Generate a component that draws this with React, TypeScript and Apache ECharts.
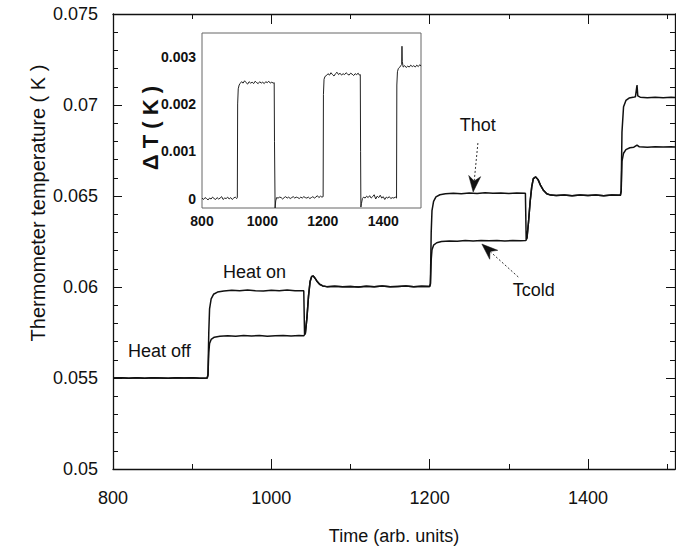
import React, { useEffect, useRef } from "react";
import * as echarts from "echarts";

type P = [number, number];

const FONT = '"Liberation Sans", Arial, Helvetica, sans-serif';

// ---- axis ticks / labels ----
const mainXLabels = [800, 1000, 1200, 1400];
const mainXMajorTicks = [1000, 1200, 1400];
const mainXMinorTicks = [900, 1100, 1300, 1500];
const insetXLabels = [800, 1000, 1200, 1400];
const insetXTicks = [900, 1000, 1100, 1200, 1300, 1400, 1500];
const insetYLabels = [0, 0.001, 0.002, 0.003];
const insetYTicks = [0, 0.0005, 0.001, 0.0015, 0.002, 0.0025, 0.003, 0.0035];

// ---- main plot: thermometer temperatures (time, K) ----
const offA: P[] = [
  [800, 0.055], [810, 0.05502], [820, 0.05499], [830, 0.05501], [840, 0.05499], [850, 0.05502],
  [860, 0.055], [870, 0.05498], [880, 0.05501], [890, 0.055], [900, 0.05502], [910, 0.05499], [919, 0.055],
];
const hotA: P[] = [
  [920, 0.0552], [921, 0.0575], [922, 0.0588], [924, 0.05935], [927, 0.0596], [932, 0.05972],
  [940, 0.05978], [950, 0.05982], [960, 0.05979], [970, 0.05983], [980, 0.0598], [990, 0.05978],
  [1000, 0.05982], [1010, 0.0598], [1020, 0.05983], [1030, 0.05979], [1041, 0.0598], [1042, 0.0574],
];
const coldA: P[] = [
  [920, 0.05515], [921, 0.0564], [922, 0.0569], [924, 0.05712], [928, 0.05724], [935, 0.0573],
  [945, 0.05732], [955, 0.0573], [965, 0.05733], [975, 0.05731], [985, 0.05733], [995, 0.0573],
  [1005, 0.05732], [1015, 0.05734], [1025, 0.05731], [1035, 0.05733], [1041, 0.05732], [1042, 0.05738],
];
const offB: P[] = [
  [1043, 0.05745], [1045, 0.0583], [1047, 0.0595], [1049, 0.0603], [1051, 0.06058], [1053, 0.0606],
  [1055, 0.0605], [1058, 0.0603], [1061, 0.06015], [1065, 0.06006], [1070, 0.06002], [1080, 0.06004],
  [1090, 0.06001], [1100, 0.06003], [1110, 0.06], [1120, 0.06004], [1130, 0.06002], [1140, 0.06005],
  [1150, 0.06001], [1160, 0.06003], [1170, 0.06005], [1180, 0.06002], [1190, 0.06004], [1200, 0.06003],
];
const hotB: P[] = [
  [1201, 0.0602], [1202, 0.063], [1203, 0.0642], [1205, 0.0647], [1208, 0.06495], [1213, 0.06507],
  [1220, 0.06512], [1230, 0.06515], [1240, 0.06513], [1250, 0.06517], [1260, 0.06514], [1270, 0.06518],
  [1280, 0.06515], [1290, 0.06517], [1300, 0.06514], [1310, 0.06516], [1321, 0.06515], [1322, 0.06262],
];
const coldB: P[] = [
  [1201, 0.06015], [1202, 0.0615], [1203, 0.06205], [1205, 0.0623], [1209, 0.06243], [1215, 0.0625],
  [1225, 0.06253], [1235, 0.06252], [1245, 0.06255], [1255, 0.06253], [1265, 0.06256], [1275, 0.06254],
  [1285, 0.06256], [1295, 0.06253], [1305, 0.06255], [1315, 0.06254], [1321, 0.06255], [1322, 0.06258],
];
const offC: P[] = [
  [1323, 0.0627], [1325, 0.0636], [1327, 0.0647], [1329, 0.0655], [1331, 0.06595], [1334, 0.06605],
  [1337, 0.0659], [1340, 0.0656], [1344, 0.0653], [1348, 0.06512], [1353, 0.06505], [1360, 0.06503],
  [1370, 0.06506], [1380, 0.06502], [1390, 0.06505], [1400, 0.06503], [1410, 0.06506], [1420, 0.06502],
  [1430, 0.06505], [1441, 0.06504],
];
const hotC: P[] = [
  [1442, 0.0653], [1443, 0.0685], [1445, 0.0699], [1448, 0.07025], [1452, 0.07038], [1457, 0.07042],
  [1460, 0.07045], [1462, 0.0711], [1463, 0.0705], [1466, 0.07043], [1475, 0.0704], [1485, 0.07043],
  [1495, 0.0704], [1505, 0.07042], [1510, 0.07041],
];
const coldC: P[] = [
  [1442, 0.06525], [1443, 0.0669], [1445, 0.06735], [1448, 0.06755], [1453, 0.06765], [1458, 0.06768],
  [1462, 0.0678], [1465, 0.0677], [1475, 0.06768], [1485, 0.06771], [1495, 0.06769], [1505, 0.0677],
  [1510, 0.06769],
];
const thotData: P[] = [...offA, ...hotA, ...offB, ...hotB, ...offC, ...hotC];
const tcoldData: P[] = [...offA, ...coldA, ...offB, ...coldB, ...offC, ...coldC];

// ---- inset: ΔT (time, K) ----
const deltaT: P[] = [
  [800, 0.00001], [805, -0.00002], [810, 0.00002], [815, 0], [820, -0.00003], [825, 0.00001],
  [830, -0.00001], [835, 0.00003], [840, 0], [845, -0.00002], [850, 0.00002], [855, -0.00001],
  [860, 0.00001], [865, 0.00004], [870, -0.00002], [875, 0.00001], [880, 0], [885, 0.00003],
  [890, -0.00001], [895, 0.00002], [900, -0.00002], [905, 0.00001], [910, 0.00003], [915, 0],
  [917, 0.00002], [918, 0.002], [920, 0.00232], [923, 0.0024],
  [926, 0.00243], [931, 0.00247], [936, 0.00244], [941, 0.00249], [946, 0.00245], [951, 0.00242],
  [956, 0.00247], [961, 0.00244], [966, 0.00246], [971, 0.00243], [976, 0.00248], [981, 0.00245],
  [986, 0.00243], [991, 0.00247], [996, 0.00244], [1001, 0.00246], [1006, 0.00243], [1011, 0.00247],
  [1016, 0.00245], [1021, 0.00248], [1026, 0.00244], [1031, 0.00246], [1036, 0.00244], [1039, 0.00245],
  [1040, 0.0012], [1042, -0.0002], [1044, -0.00005], [1047, 0.00002],
  [1052, 0.00001], [1057, 0.00003], [1062, 0.00002], [1067, -0.00001], [1072, 0.00002], [1077, 0.00004],
  [1082, 0.00001], [1087, 0.00003], [1092, 0], [1097, 0.00002], [1102, 0.00004], [1107, 0.00001],
  [1112, 0.00003], [1117, 0.00002], [1122, 0], [1127, 0.00003], [1132, 0.00001], [1137, 0.00004],
  [1142, 0.00002], [1147, 0.00001], [1152, 0.00003], [1157, 0], [1162, 0.00002], [1167, 0.00004],
  [1172, 0.00001], [1177, 0.00003], [1182, 0.00006], [1187, 0.00002], [1192, 0.00005], [1197, 0.00003],
  [1201, 0.00004], [1202, 0.0022], [1204, 0.00252], [1207, 0.00258],
  [1212, 0.0026], [1217, 0.00264], [1222, 0.00261], [1227, 0.00266], [1232, 0.00262], [1237, 0.00259],
  [1242, 0.00264], [1247, 0.00267], [1252, 0.00262], [1257, 0.00265], [1262, 0.00261], [1267, 0.00264],
  [1272, 0.00262], [1277, 0.00266], [1282, 0.00263], [1287, 0.00261], [1292, 0.00265], [1297, 0.00263],
  [1302, 0.0026], [1307, 0.00264], [1312, 0.00262], [1317, 0.00265], [1321, 0.00261], [1324, 0.00262],
  [1325, 0.001], [1326, -0.00018], [1328, -0.0001], [1331, 0],
  [1335, 0.00003], [1340, 0.00001], [1345, 0.00005], [1350, 0.00002], [1355, 0.00006], [1360, 0.00001],
  [1365, 0.00004], [1370, 0.00008], [1375, -0.00001], [1380, 0.00005], [1385, 0.00002], [1390, 0.00007],
  [1395, 0.00001], [1400, 0.00004], [1405, -0.00002], [1410, 0.00003], [1415, 0.00001], [1420, 0.00004],
  [1425, 0], [1430, 0.00002], [1435, 0.00001], [1440, 0.00003], [1444, 0.00001],
  [1445, 0.0024], [1447, 0.00268], [1450, 0.00275],
  [1454, 0.00277], [1458, 0.00281], [1461, 0.00283], [1462, 0.00322], [1463, 0.0029], [1466, 0.00278],
  [1471, 0.00281], [1476, 0.00277], [1481, 0.0028], [1486, 0.00278], [1491, 0.00282], [1496, 0.00279],
  [1501, 0.00281], [1506, 0.00278], [1511, 0.00282], [1516, 0.00279], [1521, 0.00283], [1525, 0.0028],
];

// ---- annotations (data coordinates of the main plot) ----
const noteLabels: { text: string; at: P }[] = [
  { text: "Heat off", at: [819, 0.05648] },
  { text: "Heat on", at: [939, 0.06082] },
  { text: "Thot", at: [1238, 0.0689] },
  { text: "Tcold", at: [1305, 0.05984] },
];
const noteArrows: { from: P; to: P }[] = [
  { from: [1261, 0.06791], to: [1255, 0.06522] },
  { from: [1312, 0.06055], to: [1266, 0.06236] },
];

const INK = "#111";
const plain = (v: number) => String(+v.toFixed(4));

export default function App() {
  const ref = useRef<HTMLDivElement>(null);
  useEffect(() => {
    if (!ref.current) return;
    const chart = echarts.init(ref.current, undefined, { renderer: "svg" });
    const mainX = { type: "value", gridIndex: 0, min: 800, max: 1510, splitLine: { show: false } };
    const mainY = {
      type: "value", gridIndex: 0, min: 0.05, max: 0.075, interval: 0.005, splitLine: { show: false },
    };
    const insetX = { type: "value", gridIndex: 1, min: 800, max: 1525, splitLine: { show: false } };
    const insetY = { type: "value", gridIndex: 1, min: -0.0002, max: 0.0035, splitLine: { show: false } };
    const lineMain = { show: true, onZero: false, lineStyle: { color: INK, width: 1.3 } };
    const tickStyle = { color: INK, width: 1 };
    const insetTick = {
      show: true, inside: true, length: 3, customValues: insetXTicks, lineStyle: { color: "#555", width: 1 },
    };
    const insetYTick = { ...insetTick, customValues: insetYTicks };

    const option: any = {
      animation: false,
      backgroundColor: "#fff",
      textStyle: { fontFamily: FONT },
      grid: [
        { left: 113, top: 14, width: 562, height: 455, show: false },
        {
          left: 202, top: 33, width: 219, height: 175, show: true,
          borderColor: "#666", borderWidth: 1, backgroundColor: "#fff", z: 5,
        },
      ],
      xAxis: [
        {
          ...mainX, position: "bottom", axisLine: lineMain,
          axisTick: { show: true, inside: true, length: 10, customValues: mainXMajorTicks, lineStyle: tickStyle },
          axisLabel: {
            customValues: mainXLabels, fontSize: 18, color: INK, margin: 20, fontFamily: FONT, formatter: plain,
          },
          name: "Time (arb. units)", nameLocation: "middle", nameGap: 58,
          nameTextStyle: { fontSize: 18, color: INK, fontFamily: FONT },
        },
        {
          ...mainX, position: "bottom", axisLine: { show: false },
          axisTick: { show: true, inside: true, length: 5, customValues: mainXMinorTicks, lineStyle: tickStyle },
          axisLabel: { show: false },
        },
        {
          ...mainX, position: "top", axisLine: lineMain,
          axisTick: { show: true, inside: true, length: 10, customValues: mainXMajorTicks, lineStyle: tickStyle },
          axisLabel: { show: false },
        },
        {
          ...mainX, position: "top", axisLine: { show: false },
          axisTick: { show: true, inside: true, length: 5, customValues: mainXMinorTicks, lineStyle: tickStyle },
          axisLabel: { show: false },
        },
        {
          ...insetX, position: "bottom", axisLine: { show: false }, axisTick: insetTick,
          axisLabel: {
            customValues: insetXLabels, fontSize: 14, fontWeight: "bold", color: INK, margin: 6, fontFamily: FONT,
            formatter: plain,
          },
        },
        { ...insetX, position: "top", axisLine: { show: false }, axisTick: insetTick, axisLabel: { show: false } },
      ],
      yAxis: [
        {
          ...mainY, position: "left", axisLine: lineMain,
          axisTick: { show: true, inside: true, length: 9, lineStyle: tickStyle },
          minorTick: { show: true, splitNumber: 5, length: 5, lineStyle: tickStyle },
          axisLabel: { fontSize: 18, color: INK, margin: 15, fontFamily: FONT, formatter: plain },
        },
        {
          ...mainY, position: "right", axisLine: lineMain,
          axisTick: { show: true, inside: true, length: 9, lineStyle: tickStyle },
          minorTick: { show: true, splitNumber: 5, length: 5, lineStyle: tickStyle },
          axisLabel: { show: false },
        },
        {
          ...insetY, position: "left", axisLine: { show: false }, axisTick: insetYTick,
          axisLabel: {
            customValues: insetYLabels, fontSize: 14, fontWeight: "bold", color: INK, margin: 6, fontFamily: FONT,
            formatter: plain,
          },
        },
        { ...insetY, position: "right", axisLine: { show: false }, axisTick: insetYTick, axisLabel: { show: false } },
      ],
      series: [
        {
          name: "Thot", type: "line", xAxisIndex: 0, yAxisIndex: 0, data: thotData,
          showSymbol: false, symbol: "none", lineStyle: { color: INK, width: 1.5 }, z: 3,
        },
        {
          name: "Tcold", type: "line", xAxisIndex: 0, yAxisIndex: 0, data: tcoldData,
          showSymbol: false, symbol: "none", lineStyle: { color: INK, width: 1.5 }, z: 3,
        },
        {
          name: "ΔT", type: "line", xAxisIndex: 4, yAxisIndex: 2, data: deltaT,
          showSymbol: false, symbol: "none", lineStyle: { color: "#222", width: 1 }, z: 6,
        },
      ],
    };
    chart.setOption(option);

    const px = (p: P) => chart.convertToPixel({ gridIndex: 0 }, p) as number[];
    const graphics: any[] = [];
    graphics.push({
      type: "text", x: 38, y: 203, rotation: Math.PI / 2,
      style: {
        text: "Thermometer temperature ( K )", fill: INK, fontSize: 20, fontFamily: FONT,
        textAlign: "center", textVerticalAlign: "middle", align: "center", verticalAlign: "middle",
      },
    });
    graphics.push({
      type: "text", x: 150, y: 128, rotation: Math.PI / 2, z: 10,
      style: {
        text: "Δ T ( K )", fill: INK, fontSize: 22, fontWeight: "bold", fontFamily: FONT,
        textAlign: "center", textVerticalAlign: "middle", align: "center", verticalAlign: "middle",
      },
    });
    noteLabels.forEach((n) => {
      const [x, y] = px(n.at);
      graphics.push({
        type: "text", x, y, z: 10,
        style: {
          text: n.text, fill: INK, fontSize: 18, fontFamily: FONT,
          textAlign: "left", textVerticalAlign: "middle", align: "left", verticalAlign: "middle",
        },
      });
    });
    noteArrows.forEach((a) => {
      const t = px(a.from);
      const h = px(a.to);
      const dx = h[0] - t[0];
      const dy = h[1] - t[1];
      const len = Math.hypot(dx, dy);
      const ux = dx / len, uy = dy / len;
      const nx = -uy, ny = ux;
      const L = 16, W = 6, N = 11;
      const neck = [h[0] - ux * N, h[1] - uy * N];
      graphics.push({
        type: "line", z: 10,
        shape: { x1: t[0], y1: t[1], x2: neck[0], y2: neck[1] },
        style: { stroke: "#333", lineWidth: 1, lineDash: [2, 2] },
      });
      graphics.push({
        type: "polygon", z: 10,
        shape: {
          points: [
            [h[0], h[1]],
            [h[0] - ux * L + nx * W, h[1] - uy * L + ny * W],
            neck,
            [h[0] - ux * L - nx * W, h[1] - uy * L - ny * W],
          ],
        },
        style: { fill: INK, stroke: INK, lineWidth: 0.5 },
      });
    });
    chart.setOption({ graphic: graphics });

    return () => chart.dispose();
  }, []);
  return (
    <div
      ref={ref}
      style={{ position: "absolute", left: 0, top: 0, width: 676, height: 550, background: "#fff" }}
    />
  );
}
